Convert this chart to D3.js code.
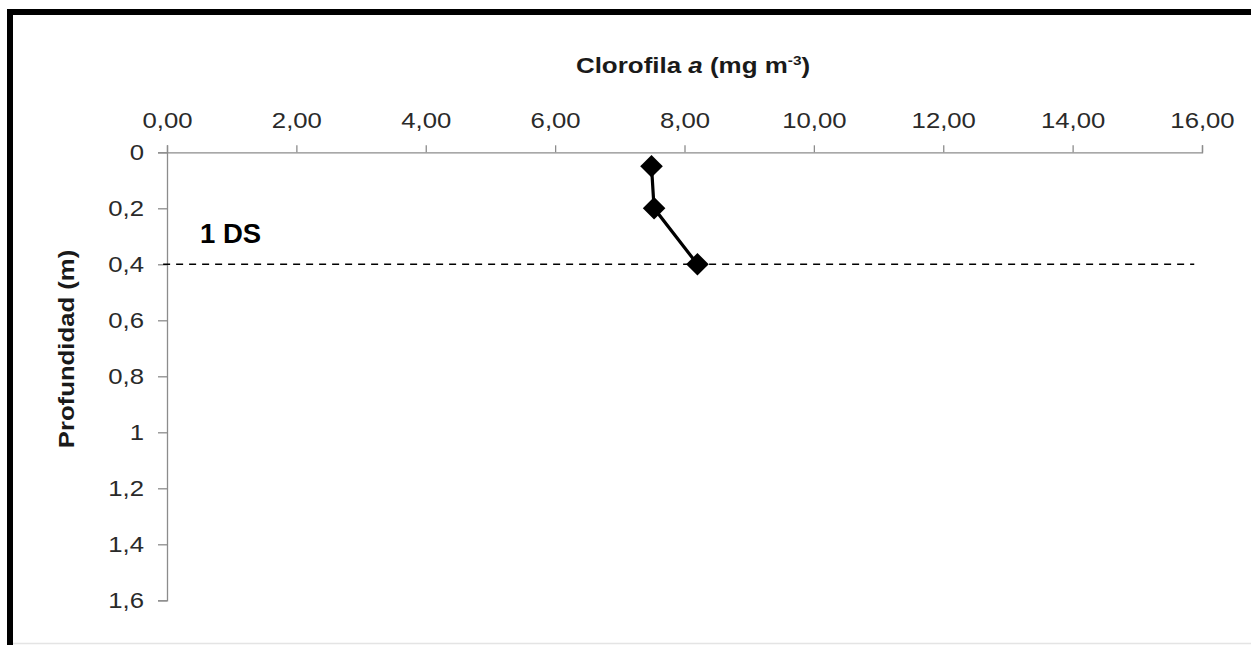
<!DOCTYPE html>
<html>
<head>
<meta charset="utf-8">
<script src="https://cdn.jsdelivr.net/npm/d3@7"></script>
<style>
  body { margin: 0; background: #fff; }
  svg { display: block; }
</style>
</head>
<body>
<div id="chart"></div>
<script>
// data
var clorofila = [7.49, 7.53, 8.2];      // mg m-3
var profundidad = [0.05, 0.2, 0.4];     // m
var xTicks = [0, 2, 4, 6, 8, 10, 12, 14, 16];
var yTicks = [0, 0.2, 0.4, 0.6, 0.8, 1, 1.2, 1.4, 1.6];
var dsDepth = [0.4];                    // 1 DS line
var dsRange = [-0.06, 15.88];

var W = 1251, H = 645;
var SX = 1.18;   // the original text is stretched along its baseline
var FONT = "'Liberation Sans', Arial, sans-serif";

var svg = d3.select("#chart").append("svg")
    .attr("width", W).attr("height", H);

var loc = d3.formatLocale({decimal: ",", thousands: ".", grouping: [3], currency: ["", ""]});

var x = d3.scaleLinear().domain([0, 16]).range([167, 1202]);
var y = d3.scaleLinear().domain([0, 1.6]).range([152.3, 600.3]);

// frame
svg.append("line").attr("x1", 7).attr("x2", W).attr("y1", 12).attr("y2", 12)
   .attr("stroke", "#000").attr("stroke-width", 6);
svg.append("line").attr("x1", 10).attr("x2", 10).attr("y1", 9).attr("y2", H)
   .attr("stroke", "#000").attr("stroke-width", 6);
svg.append("line").attr("x1", 13).attr("x2", W).attr("y1", 643.5).attr("y2", 643.5)
   .attr("stroke", "#e4e4e4").attr("stroke-width", 1.5);

// axes
var xAxis = svg.append("g")
    .attr("transform", "translate(0," + y(0) + ")")
    .call(d3.axisTop(x).tickValues(xTicks).tickSize(7).tickPadding(17)
        .tickFormat(loc.format(".2f")));
var yAxis = svg.append("g")
    .attr("transform", "translate(" + x(0) + ",0)")
    .call(d3.axisLeft(y).tickValues(yTicks).tickSize(9).tickPadding(14)
        .tickFormat(loc.format("~g")));

[xAxis, yAxis].forEach(function(a) {
    a.selectAll("path, line").attr("stroke", "#8c8c8c").attr("stroke-width", 1.3);
    a.selectAll("text").attr("fill", "#2a2a2a")
      .style("font-family", FONT).style("font-size", "21.8px");
});
// stretch labels, keeping their anchor point
xAxis.selectAll("text").attr("transform", "scale(" + SX + ",1)");
yAxis.selectAll("text")
   .attr("x", function() { return +d3.select(this).attr("x") / SX; })
   .attr("transform", "scale(" + SX + ",1)");

// 1 DS dashed line
svg.selectAll(".ds").data(dsDepth).enter().append("line")
   .attr("class", "ds")
   .attr("x1", x(dsRange[0])).attr("x2", x(dsRange[1]))
   .attr("y1", function(d) { return y(d); }).attr("y2", function(d) { return y(d); })
   .attr("stroke", "#000").attr("stroke-width", 1.6).attr("stroke-dasharray", "7,6");

svg.append("text")
   .attr("x", 200).attr("y", 243)
   .style("font-family", FONT)
   .style("font-size", "27.5px").style("font-weight", "bold")
   .text("1 DS");

// profile line and markers
var pts = clorofila.map(function(c, i) { return [c, profundidad[i]]; });
svg.append("path")
   .datum(pts)
   .attr("fill", "none").attr("stroke", "#000").attr("stroke-width", 3.2)
   .attr("d", d3.line().x(function(d) { return x(d[0]); }).y(function(d) { return y(d[1]); }));

svg.selectAll(".mk").data(pts).enter().append("path")
   .attr("class", "mk")
   .attr("d", d3.symbol().type(d3.symbolSquare).size(255))
   .attr("transform", function(d) { return "translate(" + x(d[0]) + "," + y(d[1]) + ") rotate(45)"; })
   .attr("fill", "#000");

// titles
var t = svg.append("text")
   .attr("transform", "translate(693,73) scale(" + SX + ",1)")
   .attr("text-anchor", "middle")
   .style("font-family", FONT)
   .style("font-size", "22px").style("font-weight", "bold").attr("fill", "#1a1a1a");
t.append("tspan").text("Clorofila ");
t.append("tspan").style("font-style", "italic").text("a");
t.append("tspan").text(" (mg m");
t.append("tspan").attr("dy", -8).style("font-size", "13px").text("-3");
t.append("tspan").attr("dy", 8).text(")");

svg.append("text")
   .attr("transform", "translate(74,349) rotate(-90) scale(" + SX + ",1)")
   .attr("text-anchor", "middle")
   .style("font-family", FONT)
   .style("font-size", "21.8px").style("font-weight", "bold").attr("fill", "#1a1a1a")
   .text("Profundidad (m)");
</script>
</body>
</html>
